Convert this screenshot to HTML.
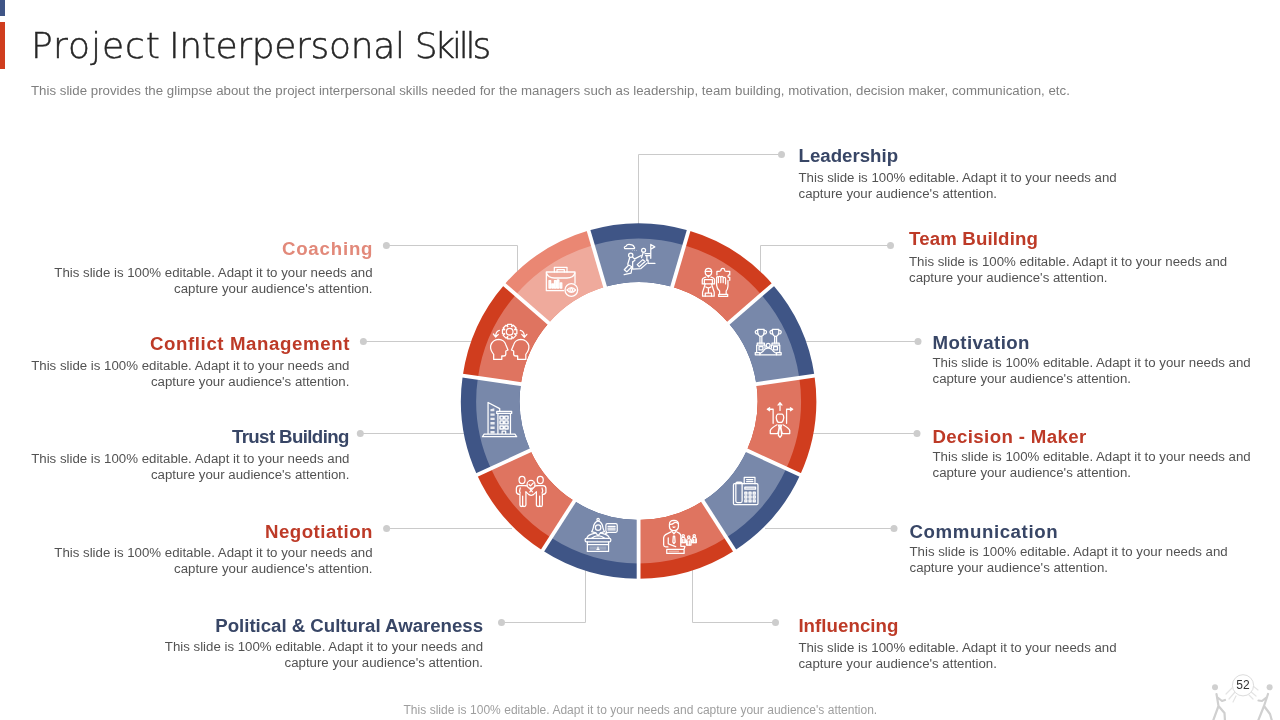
<!DOCTYPE html>
<html lang="en"><head><meta charset="utf-8"><title>Project Interpersonal Skills</title>
<style>
html,body{margin:0;padding:0;background:#fff}
body{width:1280px;height:720px;position:relative;overflow:hidden;font-family:"Liberation Sans",Arial,sans-serif}
.bar1{position:absolute;left:0;top:0;width:5px;height:16px;background:#3F5586}
.bar2{position:absolute;left:0;top:22px;width:5px;height:47px;background:#D03D1E}
.title span{position:absolute;top:0}
.title{position:absolute;left:0;top:24px;-webkit-text-stroke:0.45px #262626;font-family:"DejaVu Sans Light","DejaVu Sans","Liberation Sans",sans-serif;font-size:36px;line-height:44px;color:#262626;white-space:nowrap;font-weight:200}
.sub{word-spacing:0.08px;position:absolute;left:31px;top:83px;font-size:13.25px;line-height:16px;color:#7f7f7f;white-space:nowrap}
.h{position:absolute;font-weight:700;font-size:18.67px;line-height:22px;white-space:nowrap}
.b{position:absolute;font-size:13.25px;line-height:16px;color:#525252;white-space:nowrap}
.pn{position:absolute;left:1223px;width:40px;text-align:center;top:677px;font-size:12px;line-height:16px;color:#333}
.foot{word-spacing:0.17px;position:absolute;left:403.5px;top:703px;font-size:12px;line-height:14px;color:#9e9e9e;white-space:nowrap}
svg{position:absolute;left:0;top:0}
</style></head><body>
<div class="bar1"></div><div class="bar2"></div>
<div class="title"><span style="left:31px;letter-spacing:0.97px">Project</span> <span style="left:169px;letter-spacing:-0.34px">Interpersonal</span> <span style="left:414.7px;letter-spacing:-3.2px">Skills</span></div>
<div class="sub">This slide provides the glimpse about the project interpersonal skills needed for the managers such as leadership, team building, motivation, decision maker, communication, etc.</div>
<svg width="1280" height="720" viewBox="0 0 1280 720">
<g id="leaders">
<polyline points="781.5,154.5 638.5,154.5 638.5,224" fill="none" stroke="#CACACA" stroke-width="1"/>
<circle cx="781.5" cy="154.5" r="3.5" fill="#CDCDCD"/>
<polyline points="890.5,245.5 760.5,245.5 760.5,272" fill="none" stroke="#CACACA" stroke-width="1"/>
<circle cx="890.5" cy="245.5" r="3.5" fill="#CDCDCD"/>
<polyline points="918,341.5 806,341.5" fill="none" stroke="#CACACA" stroke-width="1"/>
<circle cx="918" cy="341.5" r="3.5" fill="#CDCDCD"/>
<polyline points="917,433.5 813,433.5" fill="none" stroke="#CACACA" stroke-width="1"/>
<circle cx="917" cy="433.5" r="3.5" fill="#CDCDCD"/>
<polyline points="894,528.5 765,528.5" fill="none" stroke="#CACACA" stroke-width="1"/>
<circle cx="894" cy="528.5" r="3.5" fill="#CDCDCD"/>
<polyline points="775.5,622.5 692.5,622.5 692.5,570" fill="none" stroke="#CACACA" stroke-width="1"/>
<circle cx="775.5" cy="622.5" r="3.5" fill="#CDCDCD"/>
<polyline points="501.5,622.5 585.5,622.5 585.5,570" fill="none" stroke="#CACACA" stroke-width="1"/>
<circle cx="501.5" cy="622.5" r="3.5" fill="#CDCDCD"/>
<polyline points="386.6,528.5 512,528.5" fill="none" stroke="#CACACA" stroke-width="1"/>
<circle cx="386.6" cy="528.5" r="3.5" fill="#CDCDCD"/>
<polyline points="360.3,433.5 464,433.5" fill="none" stroke="#CACACA" stroke-width="1"/>
<circle cx="360.3" cy="433.5" r="3.5" fill="#CDCDCD"/>
<polyline points="363.4,341.5 471,341.5" fill="none" stroke="#CACACA" stroke-width="1"/>
<circle cx="363.4" cy="341.5" r="3.5" fill="#CDCDCD"/>
<polyline points="386.4,245.5 517.5,245.5 517.5,272" fill="none" stroke="#CACACA" stroke-width="1"/>
<circle cx="386.4" cy="245.5" r="3.5" fill="#CDCDCD"/>
</g>
<g id="donut">
<path d="M588.54 230.50A177.7 177.7 0 0 1 688.66 230.50L672.13 286.82A119.0 119.0 0 0 0 605.07 286.82Z" fill="#3F5586"/>
<path d="M592.85 245.18A162.4 162.4 0 0 1 684.35 245.18L672.13 286.82A119.0 119.0 0 0 0 605.07 286.82Z" fill="#7888AA"/>
<path d="M688.66 230.50A177.7 177.7 0 0 1 772.90 284.63L728.53 323.07A119.0 119.0 0 0 0 672.13 286.82Z" fill="#D03D1E"/>
<path d="M684.35 245.18A162.4 162.4 0 0 1 761.33 294.65L728.53 323.07A119.0 119.0 0 0 0 672.13 286.82Z" fill="#DF7460"/>
<path d="M772.90 284.63A177.7 177.7 0 0 1 814.49 375.71L756.39 384.06A119.0 119.0 0 0 0 728.53 323.07Z" fill="#3F5586"/>
<path d="M761.33 294.65A162.4 162.4 0 0 1 799.35 377.89L756.39 384.06A119.0 119.0 0 0 0 728.53 323.07Z" fill="#7888AA"/>
<path d="M814.49 375.71A177.7 177.7 0 0 1 800.24 474.82L746.85 450.43A119.0 119.0 0 0 0 756.39 384.06Z" fill="#D03D1E"/>
<path d="M799.35 377.89A162.4 162.4 0 0 1 786.32 468.46L746.85 450.43A119.0 119.0 0 0 0 756.39 384.06Z" fill="#DF7460"/>
<path d="M800.24 474.82A177.7 177.7 0 0 1 734.67 550.49L702.94 501.11A119.0 119.0 0 0 0 746.85 450.43Z" fill="#3F5586"/>
<path d="M786.32 468.46A162.4 162.4 0 0 1 726.40 537.62L702.94 501.11A119.0 119.0 0 0 0 746.85 450.43Z" fill="#7888AA"/>
<path d="M734.67 550.49A177.7 177.7 0 0 1 638.60 578.70L638.60 520.00A119.0 119.0 0 0 0 702.94 501.11Z" fill="#D03D1E"/>
<path d="M726.40 537.62A162.4 162.4 0 0 1 638.60 563.40L638.60 520.00A119.0 119.0 0 0 0 702.94 501.11Z" fill="#DF7460"/>
<path d="M638.60 578.70A177.7 177.7 0 0 1 542.53 550.49L574.26 501.11A119.0 119.0 0 0 0 638.60 520.00Z" fill="#3F5586"/>
<path d="M638.60 563.40A162.4 162.4 0 0 1 550.80 537.62L574.26 501.11A119.0 119.0 0 0 0 638.60 520.00Z" fill="#7888AA"/>
<path d="M542.53 550.49A177.7 177.7 0 0 1 476.96 474.82L530.35 450.43A119.0 119.0 0 0 0 574.26 501.11Z" fill="#D03D1E"/>
<path d="M550.80 537.62A162.4 162.4 0 0 1 490.88 468.46L530.35 450.43A119.0 119.0 0 0 0 574.26 501.11Z" fill="#DF7460"/>
<path d="M476.96 474.82A177.7 177.7 0 0 1 462.71 375.71L520.81 384.06A119.0 119.0 0 0 0 530.35 450.43Z" fill="#3F5586"/>
<path d="M490.88 468.46A162.4 162.4 0 0 1 477.85 377.89L520.81 384.06A119.0 119.0 0 0 0 530.35 450.43Z" fill="#7888AA"/>
<path d="M462.71 375.71A177.7 177.7 0 0 1 504.30 284.63L548.67 323.07A119.0 119.0 0 0 0 520.81 384.06Z" fill="#D03D1E"/>
<path d="M477.85 377.89A162.4 162.4 0 0 1 515.87 294.65L548.67 323.07A119.0 119.0 0 0 0 520.81 384.06Z" fill="#DF7460"/>
<path d="M504.30 284.63A177.7 177.7 0 0 1 588.54 230.50L605.07 286.82A119.0 119.0 0 0 0 548.67 323.07Z" fill="#EA8773"/>
<path d="M515.87 294.65A162.4 162.4 0 0 1 592.85 245.18L605.07 286.82A119.0 119.0 0 0 0 548.67 323.07Z" fill="#EFAA9C"/>
<line x1="605.64" y1="288.74" x2="587.97" y2="228.58" stroke="#fff" stroke-width="3.8"/>
<line x1="671.56" y1="288.74" x2="689.23" y2="228.58" stroke="#fff" stroke-width="3.8"/>
<line x1="727.02" y1="324.38" x2="774.41" y2="283.32" stroke="#fff" stroke-width="3.8"/>
<line x1="754.41" y1="384.35" x2="816.47" y2="375.43" stroke="#fff" stroke-width="3.8"/>
<line x1="745.03" y1="449.60" x2="802.06" y2="475.65" stroke="#fff" stroke-width="3.8"/>
<line x1="701.85" y1="499.43" x2="735.75" y2="552.17" stroke="#fff" stroke-width="3.8"/>
<line x1="638.60" y1="518.00" x2="638.60" y2="580.70" stroke="#fff" stroke-width="3.8"/>
<line x1="575.35" y1="499.43" x2="541.45" y2="552.17" stroke="#fff" stroke-width="3.8"/>
<line x1="532.17" y1="449.60" x2="475.14" y2="475.65" stroke="#fff" stroke-width="3.8"/>
<line x1="522.79" y1="384.35" x2="460.73" y2="375.43" stroke="#fff" stroke-width="3.8"/>
<line x1="550.18" y1="324.38" x2="502.79" y2="283.32" stroke="#fff" stroke-width="3.8"/>
</g>
<g id="icons">
<g transform="translate(617 238) scale(0.05976)" fill="none" stroke="#fff" stroke-width="21" stroke-linecap="round" stroke-linejoin="round">
<path d="M128 176Q112 150 150 138Q168 100 222 110Q272 108 286 150Q304 166 288 178Z"/>
<circle cx="255" cy="212" r="6" fill="#fff" stroke="none"/><circle cx="290" cy="212" r="6" fill="#fff" stroke="none"/><circle cx="325" cy="212" r="6" fill="#fff" stroke="none"/>
<path d="M565 105V340M565 110L632 148L565 188"/>
<circle cx="445" cy="205" r="33"/>
<path d="M468 262H555M478 296H555M440 240L410 330M500 300V372"/>
<path d="M432 362L338 446L372 482L470 392Z"/>
<path d="M500 372H520V425H635"/>
<circle cx="230" cy="290" r="36"/>
<path d="M212 330L180 440M262 322L296 350L405 292M262 400L300 372"/>
<path d="M196 452L122 532L164 566L250 480Z"/>
<path d="M262 400V520L400 512L500 425"/>
<path d="M120 612L236 586L250 500"/>
</g>
<g transform="translate(693 260) scale(0.05976)" fill="none" stroke="#fff" stroke-width="21" stroke-linecap="round" stroke-linejoin="round">
<path d="M205 200Q205 140 258 140Q312 140 312 200Q312 262 258 262Q205 262 205 200Z"/>
<path d="M205 190H312"/>
<path d="M240 262L258 285L276 262"/>
<path d="M215 285Q160 295 155 330V400H190M300 285Q355 295 360 330V400H325"/>
<path d="M190 330H325V400H190Z"/>
<path d="M205 400L160 540V605H355V540L310 400"/>
<path d="M215 450Q258 480 300 450M258 480V540M205 605V555H310V605"/>
<path d="M470 165Q470 140 500 140Q530 140 530 170Q530 190 560 190H615V250Q590 240 585 270Q590 300 615 290V340"/>
<path d="M470 165Q470 190 440 190H400V250"/>
<path d="M395 300Q395 280 410 280Q425 280 425 300V380M425 300Q425 275 445 275Q465 275 465 300V380M465 300Q465 275 485 275Q505 275 505 300V380M505 310Q505 290 525 290Q545 290 545 310V400"/>
<path d="M395 300V420Q400 480 445 520V575M585 340V440Q580 500 555 520V575"/>
<path d="M430 575H580V610H430Z"/>
</g>
<g transform="translate(745 320) scale(0.05976)" fill="none" stroke="#fff" stroke-width="21" stroke-linecap="round" stroke-linejoin="round">
<path d="M212 158H320V200Q318 268 266 272Q214 268 212 200Z"/>
<path d="M212 175Q172 172 172 205Q176 238 222 238M320 175Q360 172 360 205Q356 238 310 238"/>
<path d="M250 272V385M282 272V385"/>
<path d="M205 385H325V420H205ZM195 420V545M335 420V470"/>
<path d="M235 445H300V500H235Z"/>
<path d="M458 158H566V200Q564 268 512 272Q460 268 458 200Z"/>
<path d="M458 175Q418 172 418 205Q422 238 468 238M566 175Q606 172 606 205Q602 238 556 238"/>
<path d="M496 272V385M528 272V385"/>
<path d="M452 385H572V420H452ZM582 420V545M442 420V470"/>
<path d="M478 445H543V500H478Z"/>
<path d="M172 545H250V582H172ZM528 545H605V582H528Z"/>
<circle cx="388" cy="425" r="32"/>
<path d="M250 560Q300 540 330 490Q388 455 446 490Q476 540 528 560M250 582H528"/>
</g>
<g transform="translate(757 397) scale(0.05976)" fill="none" stroke="#fff" stroke-width="21" stroke-linecap="round" stroke-linejoin="round">
<path d="M385 225V100M352 135L385 95L418 135"/>
<path d="M270 440V205H185M212 180L172 205L212 230"/>
<path d="M495 440V205H585M558 180L598 205L558 230"/>
<path d="M350 285H420Q448 300 448 345Q440 410 415 425H355Q330 410 322 345Q322 300 350 285Z"/>
<path d="M335 465Q235 520 222 560V612H345L385 485L425 612H548V560Q535 520 435 465"/>
<path d="M360 470H410L400 510L412 640L385 675L358 640L370 510Z"/>
</g>
<g transform="translate(723 470) scale(0.05976)" fill="none" stroke="#fff" stroke-width="21" stroke-linecap="round" stroke-linejoin="round">
<path d="M195 230H565Q585 230 585 250V560Q585 580 565 580H195Q175 580 175 560V250Q175 230 195 230Z"/>
<path d="M240 205H295Q320 205 320 230V520Q320 545 295 545H240Q215 545 215 520V230Q215 205 240 205Z"/>
<path d="M355 230V125H535V230M395 160H500M395 195H500"/>
<path d="M365 285H545V322H365Z" fill="#fff" fill-opacity=".35"/>
<g fill="#fff" fill-opacity=".25"><path d="M365 370H400V405H365ZM435 370H470V405H435ZM505 370H540V405H505ZM365 435H400V470H365ZM435 435H470V470H435ZM505 435H540V470H505ZM365 500H400V535H365ZM435 500H470V535H435ZM505 500H540V535H505Z"/></g>
</g>
<g transform="translate(656 514) scale(0.05976)" fill="none" stroke="#fff" stroke-width="21" stroke-linecap="round" stroke-linejoin="round">
<path d="M225 170Q225 110 300 108Q375 110 375 170V215Q370 275 300 280Q230 275 225 215Z"/>
<path d="M228 170Q270 180 300 150Q330 130 372 160M285 215Q300 235 318 215"/>
<path d="M262 285L300 330L338 285M290 370H312L320 470L300 495L282 470Z"/>
<path d="M250 300L160 345Q130 365 128 400V520Q130 550 165 552H200"/>
<path d="M350 300L395 325Q415 340 415 370V540"/>
<path d="M205 400V500L330 545"/>
<path d="M180 590H470V660H180ZM470 590L485 540H425"/><path d="M212 612H385V640H212Z" fill="#fff" fill-opacity=".4" stroke="none"/>
<circle cx="455" cy="365" r="20"/><circle cx="548" cy="385" r="20"/><circle cx="640" cy="365" r="20"/>
<path d="M420 480V420Q425 392 455 392Q485 392 490 420V480ZM605 480V420Q610 392 640 392Q670 392 675 420V480ZM510 520V445Q515 412 548 412Q580 412 586 445V520Z"/>
<path d="M440 425V480M470 425V480M625 425V480M655 425V480M532 450V520M564 450V520"/>
</g>
<g transform="translate(576 512) scale(0.05976)" fill="none" stroke="#fff" stroke-width="21" stroke-linecap="round" stroke-linejoin="round">
<circle cx="370" cy="128" r="20"/>
<path d="M370 148Q300 170 290 260Q280 300 262 330L330 350M370 148Q440 170 450 260Q460 300 478 330L410 350"/>
<circle cx="370" cy="262" r="45"/>
<path d="M330 350L370 395L410 350"/>
<path d="M182 440Q190 390 262 370L330 350M558 440Q550 390 478 370L410 350M262 440Q300 400 370 395Q440 400 478 440"/>
<path d="M175 440H560Q582 440 582 462V478Q582 500 560 500H175Q153 500 153 478V462Q153 440 175 440Z"/>
<path d="M190 500V545M545 500V545"/>
<path d="M190 545H545V660H190Z"/>
<path d="M225 575H510V632H225Z" fill="#fff" fill-opacity=".25" stroke="none"/>
<circle cx="368" cy="588" r="9" fill="#fff" stroke="none"/><path d="M350 625H386M368 600V625"/>
<path d="M525 195H665Q690 195 690 220V315Q690 340 665 340H540L495 365L510 330Q500 325 500 315V220Q500 195 525 195Z"/>
<path d="M535 240H655M535 270H655M535 300H655"/>
</g>
<g transform="translate(508 468) scale(0.05976)" fill="none" stroke="#fff" stroke-width="21" stroke-linecap="round" stroke-linejoin="round">
<ellipse cx="235" cy="200" rx="50" ry="60"/>
<ellipse cx="540" cy="200" rx="50" ry="60"/>
<path d="M290 295H185Q140 300 140 345V405Q150 440 200 440V615Q200 645 222 645Q245 645 245 615V470M245 615Q245 645 268 645Q300 645 300 615V400"/>
<path d="M290 295Q320 295 335 315L410 400M300 400L350 445M205 335Q185 380 205 420"/>
<path d="M485 295H590Q635 300 635 345V405Q625 440 575 440V615Q575 645 553 645Q530 645 530 615V470M530 615Q530 645 507 645Q475 645 475 615V400"/>
<path d="M485 295Q455 295 440 315L365 400M475 400L425 445M570 335Q590 380 570 420"/>
<path d="M350 445Q387 472 425 445"/>
<circle cx="385" cy="275" r="66" fill="#DF7460"/>
<path d="M352 275L378 300L425 250"/>
</g>
<g transform="translate(477 397) scale(0.05976)" fill="none" stroke="#fff" stroke-width="21" stroke-linecap="round" stroke-linejoin="round">
<path d="M185 610V92L380 195V240"/>
<g fill="#fff" fill-opacity=".85" stroke="none"><path d="M225 205L290 190V240H225ZM225 275H295V312H225ZM225 347H295V385H225ZM225 420H295V460H225ZM225 495H295V535H225ZM225 570H295V610H225Z"/></g>
<path d="M330 240H580V275H330ZM350 275V610M560 275V610"/>
<path d="M385 320H440V370H385ZM465 320H520V370H465ZM385 400H440V450H385ZM465 400H520V450H465ZM385 485H440V535H385ZM465 485H520V535H465Z" stroke-width="24"/>
<path d="M420 610V570H480V610"/>
<path d="M120 620H635L665 665H90Z"/>
</g>
<g transform="translate(485 318) scale(0.06667)" fill="none" stroke="#fff" stroke-width="19" stroke-linecap="round" stroke-linejoin="round">
<path d="M444 170L478 175L478 235L444 240L447 233L467 260L425 302L398 282L405 279L400 313L340 313L335 279L342 282L315 302L273 260L293 233L296 240L262 235L262 175L296 170L293 177L273 150L315 108L342 128L335 131L340 97L400 97L405 131L398 128L425 108L467 150L447 177Z"/>
<circle cx="370" cy="205" r="50"/>
<path d="M130 622V545Q75 480 85 415Q110 325 205 320Q290 325 312 400L345 480L312 495V545Q310 570 280 570H252V622Z"/>
<path d="M612 622V545Q667 480 657 415Q632 325 537 320Q452 325 430 400L397 480L430 495V545Q432 570 462 570H490V622Z"/>
<path d="M215 185Q165 195 160 270M125 240L160 285L200 245"/>
<path d="M530 185Q585 195 590 270M552 245L590 290L628 245"/>
</g>
<g transform="translate(537 258) scale(0.06667)" fill="none" stroke="#fff" stroke-width="19" stroke-linecap="round" stroke-linejoin="round">
<path d="M260 210V140H450V210M300 210V175H410V210"/>
<path d="M140 210H570V380M140 210V490H400"/>
<path d="M142 225Q170 300 260 300H450Q545 300 568 225"/>
<g fill="#fff" fill-opacity=".8"><path d="M180 340H205V450H180ZM225 390H245V450H225ZM262 340H287V450H262ZM305 330H328V450H305ZM350 375H372V450H350Z"/></g>
<circle cx="515" cy="480" r="95"/>
<path d="M450 480Q515 410 580 480Q515 550 450 480Z"/><circle cx="515" cy="480" r="22"/>
</g>
</g>
</svg>
<div class="h" style="left:798.5px;top:144.53px;color:#384666;letter-spacing:-0.00px">Leadership</div>
<div class="b" style="left:798.5px;top:170.11px">This slide is 100% editable. Adapt it to your needs and</div>
<div class="b" style="left:798.5px;top:186.11px">capture your audience's attention.</div>
<div class="h" style="left:909.0px;top:227.53px;color:#BD3A27;letter-spacing:0.15px">Team Building</div>
<div class="b" style="left:909.0px;top:254.11px">This slide is 100% editable. Adapt it to your needs and</div>
<div class="b" style="left:909.0px;top:270.11px">capture your audience's attention.</div>
<div class="h" style="left:932.5px;top:331.53px;color:#384666;letter-spacing:0.41px">Motivation</div>
<div class="b" style="left:932.5px;top:355.11px">This slide is 100% editable. Adapt it to your needs and</div>
<div class="b" style="left:932.5px;top:371.11px">capture your audience's attention.</div>
<div class="h" style="left:932.5px;top:425.53px;color:#BD3A27;letter-spacing:0.36px">Decision - Maker</div>
<div class="b" style="left:932.5px;top:449.11px">This slide is 100% editable. Adapt it to your needs and</div>
<div class="b" style="left:932.5px;top:465.11px">capture your audience's attention.</div>
<div class="h" style="left:909.5px;top:520.53px;color:#384666;letter-spacing:0.59px">Communication</div>
<div class="b" style="left:909.5px;top:544.11px">This slide is 100% editable. Adapt it to your needs and</div>
<div class="b" style="left:909.5px;top:560.11px">capture your audience's attention.</div>
<div class="h" style="left:798.4px;top:614.53px;color:#BD3A27;letter-spacing:0.05px">Influencing</div>
<div class="b" style="left:798.4px;top:640.11px">This slide is 100% editable. Adapt it to your needs and</div>
<div class="b" style="left:798.4px;top:656.11px">capture your audience's attention.</div>
<div class="h" style="right:797.0px;text-align:right;top:614.53px;color:#384666;letter-spacing:-0.03px;margin-right:0.03px">Political &amp; Cultural Awareness</div>
<div class="b" style="right:797.0px;text-align:right;top:639.11px">This slide is 100% editable. Adapt it to your needs and</div>
<div class="b" style="right:797.0px;text-align:right;top:655.11px">capture your audience's attention.</div>
<div class="h" style="right:907.5px;text-align:right;top:520.53px;color:#BD3A27;letter-spacing:0.49px;margin-right:-0.49px">Negotiation</div>
<div class="b" style="right:907.5px;text-align:right;top:545.11px">This slide is 100% editable. Adapt it to your needs and</div>
<div class="b" style="right:907.5px;text-align:right;top:561.11px">capture your audience's attention.</div>
<div class="h" style="right:930.6px;text-align:right;top:425.53px;color:#384666;letter-spacing:-0.61px;margin-right:0.61px">Trust Building</div>
<div class="b" style="right:930.6px;text-align:right;top:451.11px">This slide is 100% editable. Adapt it to your needs and</div>
<div class="b" style="right:930.6px;text-align:right;top:467.11px">capture your audience's attention.</div>
<div class="h" style="right:930.6px;text-align:right;top:332.53px;color:#BD3A27;letter-spacing:0.60px;margin-right:-0.60px">Conflict Management</div>
<div class="b" style="right:930.6px;text-align:right;top:358.11px">This slide is 100% editable. Adapt it to your needs and</div>
<div class="b" style="right:930.6px;text-align:right;top:374.11px">capture your audience's attention.</div>
<div class="h" style="right:907.5px;text-align:right;top:237.53px;color:#E2897A;letter-spacing:0.80px;margin-right:-0.80px">Coaching</div>
<div class="b" style="right:907.5px;text-align:right;top:265.11px">This slide is 100% editable. Adapt it to your needs and</div>
<div class="b" style="right:907.5px;text-align:right;top:281.11px">capture your audience's attention.</div>
<div class="foot">This slide is 100% editable. Adapt it to your needs and capture your audience's attention.</div>
<svg width="100" height="60" viewBox="1180 660 100 60" style="left:1180px;top:660px">
<g fill="none" stroke="#d0d0d0" stroke-width="2.2" stroke-linecap="round" stroke-linejoin="round">
<circle cx="1215" cy="687.3" r="3" fill="#d0d0d0" stroke="none"/>
<path d="M1216.5 694L1218.5 706L1213 721M1218.5 706L1224.5 713L1225 721M1217 697L1222 701L1225 700"/>
<circle cx="1269.6" cy="687.3" r="3" fill="#d0d0d0" stroke="none"/>
<path d="M1268 694L1264 706L1258 721M1264 706L1270 714L1272 721M1267 697L1262 701L1258.5 700.5"/>
</g>
<g fill="none" stroke="#e4e4e4" stroke-width="1.2" stroke-linecap="round">
<path d="M1226 694L1232 688M1229 699L1235 692M1233 702L1236 696"/>
<path d="M1258 690L1253 686M1256 696L1250 691M1253 699L1249 695"/>
</g>
<circle cx="1243" cy="685.3" r="10.6" fill="#fff" stroke="#dcdcdc" stroke-width="1"/>
</svg>
<div class="pn">52</div>
</body></html>
